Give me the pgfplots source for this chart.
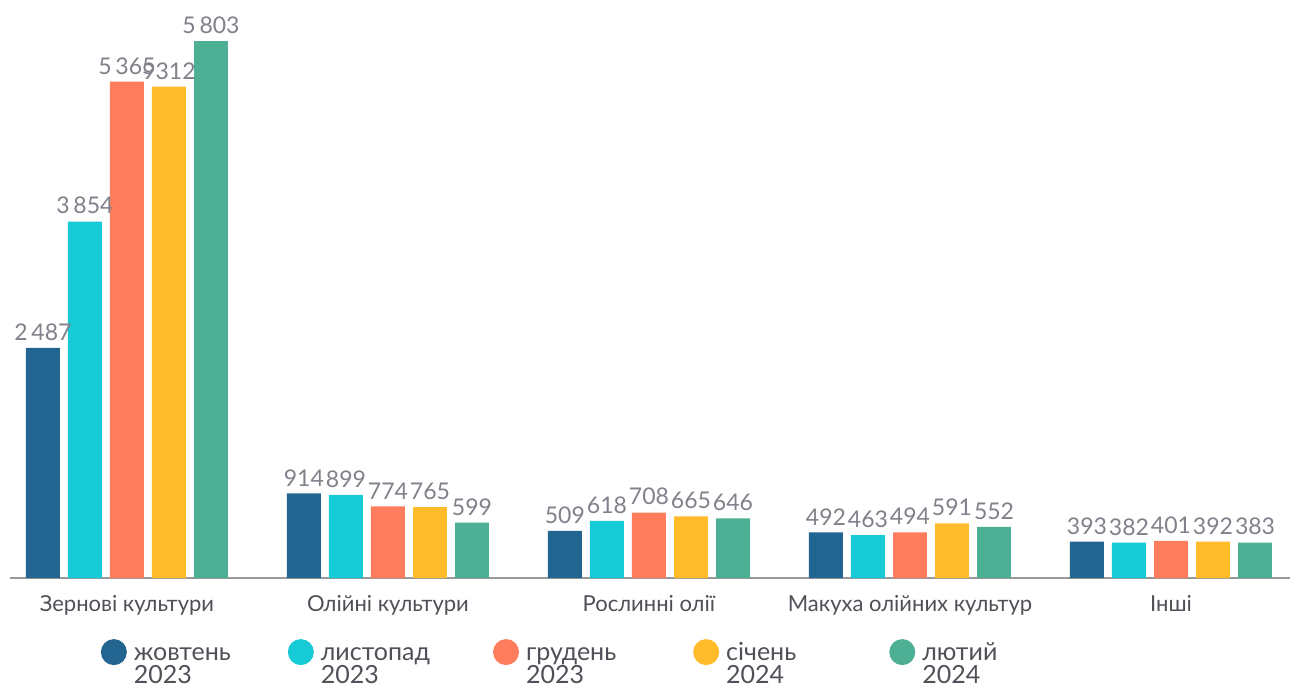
\documentclass[border=0pt]{standalone}
\usepackage{pgfplots}
\pgfplotsset{compat=1.18}
\usepackage{fontspec}
\setmainfont{Lato}
\definecolor{cBlue}{HTML}{236591}
\definecolor{cCyan}{HTML}{17CBD6}
\definecolor{cOrange}{HTML}{FF7C5C}
\definecolor{cYellow}{HTML}{FFBB2A}
\definecolor{cGreen}{HTML}{4DAF93}
\definecolor{lblgray}{HTML}{80818A}
\definecolor{txtgray}{HTML}{505058}

\begin{document}
\begin{tikzpicture}
\begin{axis}[
  scale only axis, width=640pt, height=277.5pt,
  xmin=-0.448, xmax=4.456, ymin=0, ymax=6000,
  ybar, bar width=0.13,
  axis x line=bottom, axis y line=none,
  x axis line style={draw=gray!80, line width=0.8pt, -},
  xtick={0,1,2,3,4}, xtick style={draw=none},
  xticklabels={Зернові культури, Олійні культури, Рослинні олії, Макуха олійних культур, Інші},
  xticklabel style={font=\fontsize{11}{13}\selectfont, text=txtgray, yshift=-3pt},
  ytick=\empty,
  point meta=explicit symbolic,
  nodes near coords={\pgfplotspointmeta},
  every node near coord/.append style={font=\fontsize{11.5}{13}\selectfont, text=lblgray, inner sep=1.5pt, yshift=2pt},
  legend columns=5,
  legend style={at={(0.066,-0.101)}, anchor=north west, draw=none, fill=none,
    font=\fontsize{12.5}{11.5}\selectfont, text=txtgray,
    cells={align=left, anchor=base west},
    /tikz/column 2/.style={column sep=26.5pt},
    /tikz/column 4/.style={column sep=29.5pt},
    /tikz/column 6/.style={column sep=36.5pt},
    /tikz/column 8/.style={column sep=44.5pt}},
  legend image code/.code={\fill[#1] (0.3em,15.8pt) circle (6.5pt);
    \path (0.3em+8pt,15.8pt);},
]
\addplot[bar shift=-0.322, fill=cBlue, draw=none] coordinates {
  (0,2487) [2\,487] (1,914) [914] (2,509) [509] (3,492) [492] (4,393) [393]};
\addplot[bar shift=-0.161, fill=cCyan, draw=none] coordinates {
  (0,3854) [3\,854] (1,899) [899] (2,618) [618] (3,463) [463] (4,382) [382]};
\addplot[bar shift=0, fill=cOrange, draw=none] coordinates {
  (0,5365) [5\,365] (1,774) [774] (2,708) [708] (3,494) [494] (4,401) [401]};
\addplot[bar shift=0.161, fill=cYellow, draw=none] coordinates {
  (0,5312) [9312] (1,765) [765] (2,665) [665] (3,591) [591] (4,392) [392]};
\addplot[bar shift=0.322, fill=cGreen, draw=none] coordinates {
  (0,5803) [5\,803] (1,599) [599] (2,646) [646] (3,552) [552] (4,383) [383]};
\legend{{жовтень\\2023},{листопад\\2023},{грудень\\2023},{січень\\2024},{лютий\\2024}}
\end{axis}
\pgfresetboundingbox
\path (-5pt,-54.5pt) rectangle (646pt,289pt);
\end{tikzpicture}
\end{document}
